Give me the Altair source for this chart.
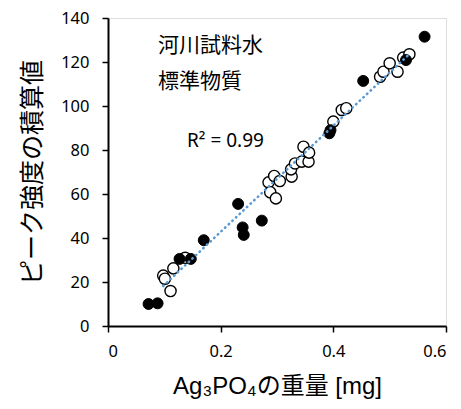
import altair as alt
import pandas as pd

# River-water samples (open circles)
open_x = [0.098, 0.101, 0.111, 0.116, 0.137,
          0.285, 0.288, 0.295, 0.298, 0.305, 0.326, 0.325, 0.332, 0.344, 0.356, 0.347, 0.357,
          0.400, 0.415, 0.423, 0.483, 0.489, 0.500, 0.514, 0.524, 0.535]
open_y = [22.9, 21.5, 15.9, 26.2, 31.0,
          65.3, 60.8, 68.2, 58.0, 65.9, 67.9, 71.2, 73.9, 74.7, 74.7, 81.5, 78.8,
          92.9, 98.2, 99.0, 113.3, 115.6, 119.4, 115.6, 122.0, 123.5]

# Standard material (filled circles)
fill_x = [0.072, 0.088, 0.127, 0.147, 0.170, 0.231, 0.239, 0.241, 0.273,
          0.393, 0.395, 0.453, 0.529, 0.562]
fill_y = [10.0, 10.3, 30.5, 30.5, 39.0, 55.5, 44.8, 41.4, 47.9,
          87.6, 89.0, 111.4, 120.9, 131.5]

x_ticks = [0, 0.2, 0.4, 0.6]
y_ticks = [0, 20, 40, 60, 80, 100, 120, 140]

label_river = "河川試料水"
label_std = "標準物質"
r2_text = "R² = 0.99"

df_open = pd.DataFrame({"x": open_x, "y": open_y})
df_fill = pd.DataFrame({"x": fill_x, "y": fill_y})

xs = alt.Scale(domain=[0, 0.6], nice=False)
ys = alt.Scale(domain=[0, 140], nice=False)

tick_font = "Noto Sans"
xax = alt.Axis(values=x_ticks, format="~g", grid=False, tickSize=6, labelPadding=11,
               labelFont=tick_font, labelFontSize=16.5, labelColor="black",
               title="Ag₃PO₄の重量 [mg]", titleFont="Liberation Sans, Noto Sans CJK JP",
               titleFontSize=24, titleFontWeight="normal", titleColor="black", titlePadding=15,
               domainColor="black", domainWidth=2, tickColor="black", tickWidth=1.5)
yax = alt.Axis(values=y_ticks, grid=False, tickSize=6, labelPadding=13,
               labelFont=tick_font, labelFontSize=16.5, labelColor="black",
               title="ピーク強度の積算値", titleFont="Noto Sans CJK JP",
               titleFontSize=25, titleFontWeight="normal", titleColor="black", titlePadding=15,
               domainColor="black", domainWidth=2, tickColor="black", tickWidth=1.5)

open_pts = alt.Chart(df_open).mark_point(
    shape="circle", filled=True, fill="white", stroke="black", strokeWidth=1.4, size=125, opacity=1
).encode(x=alt.X("x:Q", scale=xs, axis=xax), y=alt.Y("y:Q", scale=ys, axis=yax))

fill_pts = alt.Chart(df_fill).mark_point(
    shape="circle", filled=True, fill="black", stroke="black", strokeWidth=1, size=120, opacity=1
).encode(x=alt.X("x:Q", scale=xs), y=alt.Y("y:Q", scale=ys))

trend = alt.Chart(df_open).transform_regression("x", "y").mark_line(
    color="#5B9BD5", strokeWidth=2.6, strokeDash=[0.5, 4.5], strokeCap="round"
).encode(x=alt.X("x:Q", scale=xs), y=alt.Y("y:Q", scale=ys))


def note(text, px, py, font, size):
    return alt.Chart(pd.DataFrame({"t": [text]})).mark_text(
        align="left", baseline="middle", font=font, fontSize=size, color="black"
    ).encode(text="t:N", x=alt.value(px), y=alt.value(py))


lab1 = note(label_river, 50, 28, "Noto Sans CJK JP", 21)
lab2 = note(label_std, 50, 64, "Noto Sans CJK JP", 21)
r2 = note(r2_text, 79, 123, tick_font, 19)

chart = alt.layer(open_pts, fill_pts, trend, lab1, lab2, r2).properties(
    width=338, height=308,
    autosize=alt.AutoSizeParams(type="none"),
    padding={"left": 100, "top": 10, "right": 7, "bottom": 75},
).configure_view(stroke="black", strokeWidth=1.2).configure(background="white")

chart.save("out.html", embed_options={"renderer": "svg", "actions": False})
